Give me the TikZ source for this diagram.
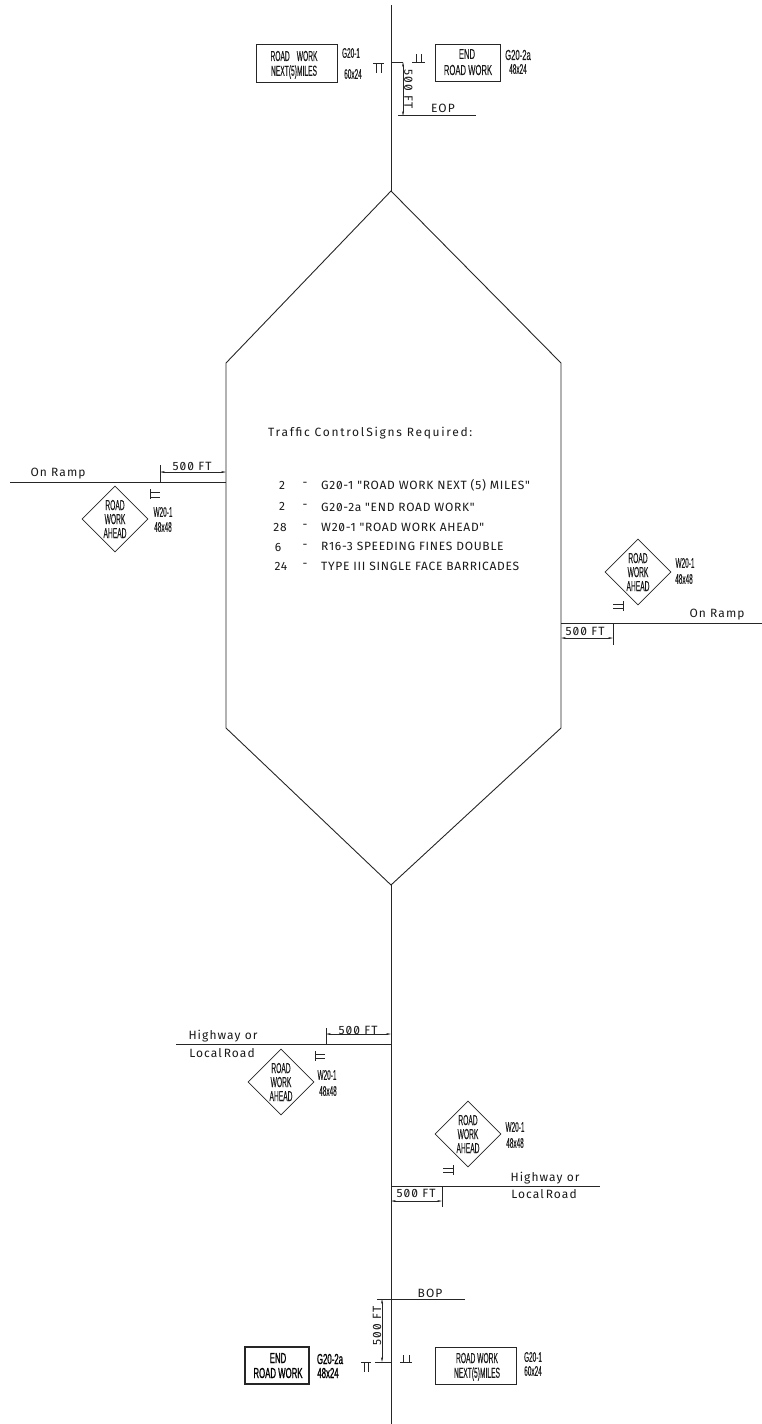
\documentclass[tikz,border=0pt]{standalone}
\usepackage{fontspec}
\usetikzlibrary{arrows.meta,shapes.geometric}
\setmainfont{Liberation Sans}
\newfontfamily\cadfont[LetterSpace=9,RawFeature=+zero]{Fira Sans}
\newfontfamily\listfont[LetterSpace=6,RawFeature=+zero]{Fira Sans}
\newfontfamily\titlefont[LetterSpace=14,RawFeature=+zero]{Fira Sans}
\newfontfamily\signfont[FakeStretch=0.46,FakeBold=0.15]{Liberation Sans}
\newfontfamily\signwidefont[FakeStretch=0.53,FakeBold=0.15]{Liberation Sans}
\newfontfamily\signboldfont[FakeStretch=0.54,FakeBold=0.9]{Liberation Sans}
\newcommand{\tightspace}{\spaceskip=2pt\relax}
\tikzset{
  x=1pt,y=-1pt,
  road/.style={line width=0.9pt,black!85},
  thin line/.style={line width=0.7pt,black!85},
  dim/.style={line width=0.5pt,black!85,{Stealth[length=5pt,width=2pt]}-{Stealth[length=5pt,width=2pt]}},
  signbox/.style={draw=black!85,line width=0.8pt,inner sep=0pt},
  signdiamond/.style={draw=black!85,line width=0.7pt,diamond,aspect=1,inner sep=0pt,minimum width=66pt,minimum height=66pt},
  signtext/.style={font=\signfont\fontsize{14.5}{14}\selectfont,align=center,inner sep=0pt,text=black!90},
  widetext/.style={font=\signwidefont\fontsize{14.5}{14}\selectfont,align=center,inner sep=0pt,text=black!90},
  boldtext/.style={font=\signboldfont\fontsize{14.5}{14}\selectfont,align=center,inner sep=0pt,text=black},
  code/.style={font=\signfont\fontsize{14}{14}\selectfont,inner sep=0pt,text=black!90},
  cad/.style={font=\cadfont\fontsize{12}{13}\selectfont,inner sep=0pt,text=black!90},
  listtext/.style={font=\listfont\fontsize{12}{13}\selectfont,inner sep=0pt,text=black!90},
  listitem/.style={listtext,anchor=west},
}
\begin{document}
\begin{tikzpicture}
\useasboundingbox (0,0) rectangle (762,1424);
% hexagon and main road
\coordinate (hn) at (391,191); \coordinate (hne) at (561,363); \coordinate (hse) at (561,728);
\coordinate (hs) at (391,885); \coordinate (hsw) at (226,728); \coordinate (hnw) at (226,363);
\coordinate (rtop) at (391,5); \coordinate (rbot) at (391,1424);
\draw[road] (hn) -- (hne) -- (hse) -- (hs) -- (hsw) -- (hnw) -- cycle;
\draw[road] (rtop) -- (hn); \draw[road] (hs) -- (rbot);

% top: end of project
\node[signbox,minimum width=81pt,minimum height=38pt] (s1) at (296.5,63) {};
\node[signtext] (s1a) at (294,56) {ROAD\hspace{7pt}WORK};
\node[signtext] (s1b) at (294,72) {NEXT(5)MILES};
\node[code] (s1c) at (351,53) {G20-1};
\node[code] (s1d) at (353,74) {60x24};
\node[signbox,minimum width=65pt,minimum height=37pt] (s2) at (467.5,62.5) {};
\node[widetext] (s2a) at (467,54) {END};
\node[widetext] (s2b) at (468,70) {ROAD WORK};
\node[widetext] (s2c) at (518,55) {G20-2a};
\node[code] (s2d) at (518,69) {48x24};
\coordinate (t1) at (391,62); \coordinate (t2) at (403,62); \coordinate (t3) at (403,116);
\coordinate (e1) at (398,115.5); \coordinate (e2) at (476,115.5);
\draw[thin line] (t1) -- (t2); \draw[thin line] (e1) -- (e2); \draw[dim] (t2) -- (t3);
\node[cad,rotate=-90] (tdim) at (408.5,89) {500 FT};
\node[cad] (eop) at (443,108) {EOP};
\draw[thin line] (373,63) -- (384,63) (376,63) -- (376,73) (381,63) -- (381,73);
\draw[thin line] (412,62) -- (425,62) (416,54) -- (416,62) (421,54) -- (421,62);

% notes
\node[font=\titlefont\fontsize{12}{13}\selectfont,inner sep=0pt,anchor=west,text=black!90] (title) at (268,433) {Traffic {\tightspace Control Signs} Required:};
\node[listtext] (n1) at (282,485) {2};  \node[listtext] (d1) at (305,484) {-}; \node[listitem] (l1) at (321,485) {G20-1 "ROAD WORK NEXT (5) MILES"};
\node[listtext] (n2) at (282,506) {2};  \node[listtext] (d2) at (305,506) {-}; \node[listitem] (l2) at (321,507) {G20-2a "END ROAD WORK"};
\node[listtext] (n3) at (280,527) {28}; \node[listtext] (d3) at (305,526) {-}; \node[listitem] (l3) at (321,527) {W20-1 "ROAD WORK AHEAD"};
\node[listtext] (n4) at (278,547) {6};  \node[listtext] (d4) at (305,546) {-}; \node[listitem] (l4) at (321,546) {R16-3 SPEEDING FINES DOUBLE};
\node[listtext] (n5) at (281,566) {24}; \node[listtext] (d5) at (305,565) {-}; \node[listitem] (l5) at (321,566) {TYPE III SINGLE FACE BARRICADES};

% left on ramp
\coordinate (a1) at (10,482); \coordinate (a2) at (226,482); \coordinate (a3) at (160,465); \coordinate (a4) at (160,482);
\coordinate (a5) at (160,472); \coordinate (a6) at (226,472);
\draw[road] (a1) -- (a2); \draw[thin line] (a3) -- (a4); \draw[dim] (a5) -- (a6);
\node[cad] at (192,466) {500 FT};
\node[cad] at (58,474) {On Ramp};
\node[signdiamond] (w1) at (115,519) {};
\node[signtext] at (w1) {ROAD\\WORK\\AHEAD};
\node[code] at (163,512) {W20-1};
\node[code] at (163,527) {48x48};
\draw[thin line] (150,489) -- (150,499) (150,492) -- (160,492) (150,497) -- (160,497);

% right on ramp
\coordinate (b1) at (561,623); \coordinate (b2) at (762,623); \coordinate (b3) at (613,623); \coordinate (b4) at (613,645);
\coordinate (b5) at (561,638); \coordinate (b6) at (613,638);
\draw[road] (b1) -- (b2); \draw[thin line] (b3) -- (b4); \draw[dim] (b5) -- (b6);
\node[cad] at (585,631) {500 FT};
\node[cad] at (717,615) {On Ramp};
\node[signdiamond] (w2) at (638,572) {};
\node[signtext] at (w2) {ROAD\\WORK\\AHEAD};
\node[code] at (685,563) {W20-1};
\node[code] at (684,579) {48x48};
\draw[thin line] (623,601) -- (623,611) (613,604) -- (623,604) (613,608) -- (623,608);

% left highway
\coordinate (c1) at (176,1044); \coordinate (c2) at (391,1044); \coordinate (c3) at (326,1028); \coordinate (c4) at (326,1044);
\coordinate (c5) at (326,1034); \coordinate (c6) at (391,1034);
\draw[road] (c1) -- (c2); \draw[thin line] (c3) -- (c4); \draw[dim] (c5) -- (c6);
\node[cad] at (358,1030) {500 FT};
\node[cad] at (223,1036) {Highway or};
\node[cad] at (222,1053) {\tightspace Local Road};
\node[signdiamond] (w3) at (281,1082) {};
\node[signtext] at (w3) {ROAD\\WORK\\AHEAD};
\node[code] at (327,1075) {W20-1};
\node[code] at (328,1091) {48x48};
\draw[thin line] (315,1051) -- (315,1061) (315,1054) -- (325,1054) (315,1058) -- (325,1058);

% right highway
\coordinate (f1) at (391,1186); \coordinate (f2) at (600,1186); \coordinate (f3) at (442,1186); \coordinate (f4) at (442,1207);
\coordinate (f5) at (391,1201); \coordinate (f6) at (442,1201);
\draw[road] (f1) -- (f2); \draw[thin line] (f3) -- (f4); \draw[dim] (f5) -- (f6);
\node[cad] at (416,1193) {500 FT};
\node[cad] at (545,1178) {Highway or};
\node[cad] at (544,1194) {\tightspace Local Road};
\node[signdiamond] (w4) at (468,1134) {};
\node[signtext] at (w4) {ROAD\\WORK\\AHEAD};
\node[code] at (515,1127) {W20-1};
\node[code] at (515,1143) {48x48};
\draw[thin line] (453,1165) -- (453,1175) (443,1168) -- (453,1168) (443,1172) -- (453,1172);

% bottom: beginning of project
\coordinate (g1) at (377,1299); \coordinate (g2) at (465,1299); \coordinate (g3) at (382,1299); \coordinate (g4) at (382,1362);
\coordinate (g5) at (375,1362); \coordinate (g6) at (391,1362);
\draw[thin line] (g1) -- (g2); \draw[thin line] (g5) -- (g6); \draw[dim] (g3) -- (g4);
\node[cad,rotate=90] at (377,1326) {500 FT};
\node[cad] at (430,1293) {BOP};
\draw[thin line] (361,1362) -- (371,1362) (364,1362) -- (364,1372) (368,1362) -- (368,1372);
\draw[thin line] (400,1362) -- (412,1362) (403,1355) -- (403,1362) (409,1355) -- (409,1362);
\node[signbox,line width=1.8pt,minimum width=64pt,minimum height=37pt] (s3) at (277,1365.5) {};
\node[boldtext] at (278,1358) {END};
\node[boldtext] at (278,1373) {ROAD WORK};
\node[boldtext] at (330,1359) {G20-2a};
\node[boldtext] at (328,1373) {48x24};
\node[signbox,minimum width=81pt,minimum height=37pt] (s4) at (475.5,1365.5) {};
\node[signtext] at (477,1358) {ROAD WORK};
\node[signtext] at (477,1374) {NEXT(5)MILES};
\node[code] at (533,1357) {G20-1};
\node[code] at (533,1371) {60x24};
\end{tikzpicture}
\end{document}
